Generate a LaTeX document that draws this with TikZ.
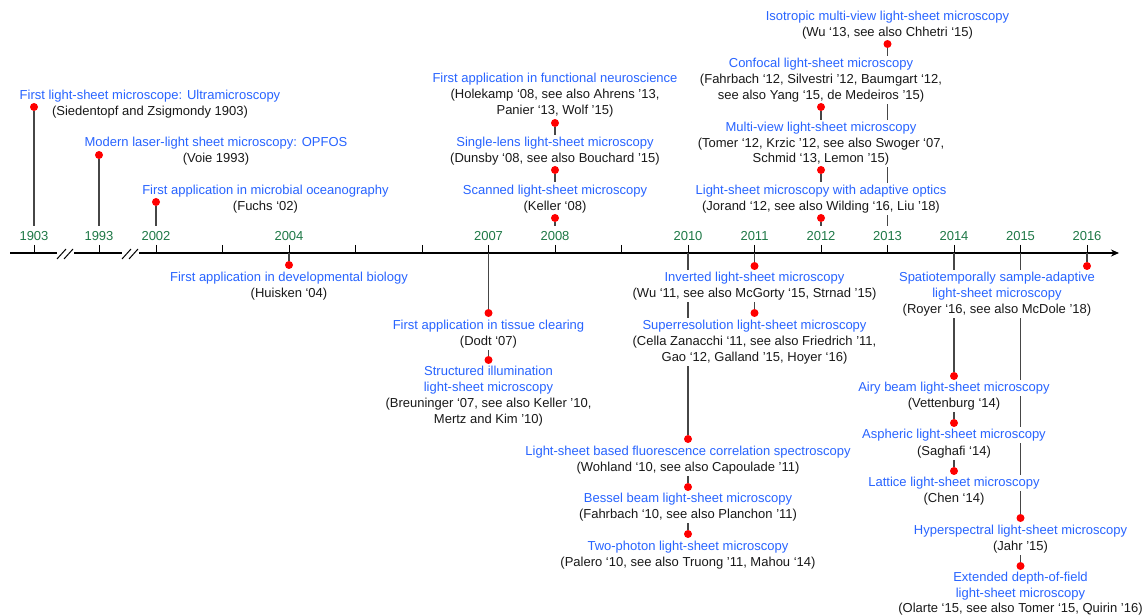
\documentclass[tikz,border=0pt]{standalone}
\usepackage{fontspec}
\setmainfont{Liberation Sans}
\usetikzlibrary{arrows.meta}
\definecolor{tblue}{RGB}{40,100,255}
\definecolor{ygreen}{RGB}{30,120,70}
\definecolor{tblack}{RGB}{25,25,25}
\definecolor{stemc}{RGB}{70,70,70}
\pgfdeclarelayer{bg}
\pgfsetlayers{bg,main}
\begin{document}
\begin{tikzpicture}[x=1bp,y=-1bp,
  every node/.style={font=\fontsize{13bp}{16bp}\selectfont},
  ti/.style={anchor=base,text=tblue,fill=white,inner xsep=1bp,inner ysep=0pt,text height=11.5bp,text depth=4.5bp},
  rf/.style={ti,text=tblack},
  yl/.style={anchor=base,text=ygreen,inner sep=0pt,text height=14bp,text depth=4bp},
  dot/.style={circle,fill=red,inner sep=0pt,minimum size=8bp},
  stem/.style={draw=stemc,line width=1.1bp},
  tick/.style={draw=black,line width=1bp},
  axisline/.style={draw=black,line width=1.1bp},
  brk/.style={draw=black,line width=1bp}]
\useasboundingbox (0,0) rectangle (1145,615);

% ---- year labels and axis coordinates
\foreach \yr/\xx in {1903/34,1993/99,2002/156,2004/289,2007/488.5,2008/555,2010/688,2011/754.5,2012/821,2013/887.5,2014/954,2015/1020.5,2016/1087}{
  \node[yl] (y\yr) at (\xx,240.6) {\yr};
  \coordinate (a\yr) at (\xx,253);
}
\foreach \yr/\xx in {2003/222.5,2005/355.5,2006/422,2009/621.5}{
  \coordinate (t\yr) at (\xx,245);
  \coordinate (a\yr) at (\xx,253);
}
% axis pieces and break marks
\coordinate (ax0) at (10,253);
\coordinate (b1l) at (57,253);
\coordinate (b1r) at (74,253);
\coordinate (b2l) at (122,253);
\coordinate (b2r) at (139,253);
\coordinate (axend) at (1119,253);
\coordinate (s1a) at (57,259); \coordinate (s1b) at (66,249);
\coordinate (s2a) at (64,259); \coordinate (s2b) at (73,249);
\coordinate (s3a) at (122,259); \coordinate (s3b) at (131,249);
\coordinate (s4a) at (129,259); \coordinate (s4b) at (138,249);

% ---- top-left events
\node[ti] (n1903a) at (150,99.6) {First light-sheet microscope: Ultramicroscopy};
\node[rf] (n1903b) at (150,115.6) {(Siedentopf and Zsigmondy 1903)};
\node[dot] (d1903) at (34,107) {};

\node[ti] (n1993a) at (216,146.6) {Modern laser-light sheet microscopy: OPFOS};
\node[rf] (n1993b) at (216,162.6) {(Voie 1993)};
\node[dot] (d1993) at (99,155) {};

\node[ti] (n2002a) at (265.5,194.1) {First application in microbial oceanography};
\node[rf] (n2002b) at (265.5,210.1) {(Fuchs ‘02)};
\node[dot] (d2002) at (156,202) {};

% ---- 2008 column
\node[ti] (n08c1) at (555,82.6) {First application in functional neuroscience};
\node[rf] (n08c2) at (555,98.6) {(Holekamp ‘08, see also Ahrens ’13,};
\node[rf] (n08c3) at (555,114.6) {Panier ‘13, Wolf ’15)};
\node[dot] (d08c) at (555,123) {};
\node[ti] (n08b1) at (555,146.6) {Single-lens light-sheet microscopy};
\node[rf] (n08b2) at (555,162.6) {(Dunsby ‘08, see also Bouchard ’15)};
\node[dot] (d08b) at (555,170) {};
\node[ti] (n08a1) at (555,194.1) {Scanned light-sheet microscopy};
\node[rf] (n08a2) at (555,210.1) {(Keller ‘08)};
\node[dot] (d08a) at (555,218) {};

% ---- 2013 top
\node[ti] (n13a1) at (887.5,20.1) {Isotropic multi-view light-sheet microscopy};
\node[rf] (n13a2) at (887.5,36.1) {(Wu ‘13, see also Chhetri ‘15)};
\node[dot] (d13) at (887.5,44) {};

% ---- 2012 column
\node[ti] (n12d1) at (821,67.6) {Confocal light-sheet microscopy};
\node[rf] (n12d2) at (821,83.6) {(Fahrbach ‘12, Silvestri ’12, Baumgart ‘12,};
\node[rf] (n12d3) at (821,99.6) {see also Yang ‘15, de Medeiros ’15)};
\node[dot] (d12d) at (821,107) {};
\node[ti] (n12c1) at (821,131.6) {Multi-view light-sheet microscopy};
\node[rf] (n12c2) at (821,147.1) {(Tomer ‘12, Krzic ’12, see also Swoger ‘07,};
\node[rf] (n12c3) at (821,162.6) {Schmid ‘13, Lemon ’15)};
\node[dot] (d12c) at (821,170) {};
\node[ti] (n12b1) at (821,194.1) {Light-sheet microscopy with adaptive optics};
\node[rf] (n12b2) at (821,210.1) {(Jorand ‘12, see also Wilding ‘16, Liu ’18)};
\node[dot] (d12b) at (821,218) {};

% ---- 2004
\node[dot] (d04) at (289,265) {};
\node[ti] (n04a1) at (289,281.6) {First application in developmental biology};
\node[rf] (n04a2) at (289,297.6) {(Huisken ‘04)};

% ---- 2007
\node[dot] (d07a) at (488.5,313) {};
\node[ti] (n07a1) at (488.5,329.1) {First application in tissue clearing};
\node[rf] (n07a2) at (488.5,345.1) {(Dodt ‘07)};
\node[dot] (d07b) at (488.5,360) {};
\node[ti] (n07b1) at (488.5,375.6) {Structured illumination};
\node[ti] (n07b2) at (488.5,391.6) {light-sheet microscopy};
\node[rf] (n07b3) at (488.5,407.6) {(Breuninger ‘07, see also Keller ’10,};
\node[rf] (n07b4) at (488.5,423.1) {Mertz and Kim ’10)};

% ---- 2011
\node[dot] (d11a) at (754.5,266) {};
\node[ti] (n11a1) at (754.5,281.6) {Inverted light-sheet microscopy};
\node[rf] (n11a2) at (754.5,297.6) {(Wu ‘11, see also McGorty ‘15, Strnad ’15)};
\node[dot] (d11b) at (754.5,313) {};
\node[ti] (n11b1) at (754.5,329.1) {Superresolution light-sheet microscopy};
\node[rf] (n11b2) at (754.5,345.1) {(Cella Zanacchi ‘11, see also Friedrich ’11,};
\node[rf] (n11b3) at (754.5,361.1) {Gao ‘12, Galland ’15, Hoyer ‘16)};

% ---- 2010
\node[dot] (d10a) at (688,439) {};
\node[ti] (n10a1) at (688,455.6) {Light-sheet based fluorescence correlation spectroscopy};
\node[rf] (n10a2) at (688,471.1) {(Wohland ‘10, see also Capoulade ’11)};
\node[dot] (d10b) at (688,487) {};
\node[ti] (n10b1) at (688,502.6) {Bessel beam light-sheet microscopy};
\node[rf] (n10b2) at (688,518.6) {(Fahrbach ‘10, see also Planchon ’11)};
\node[dot] (d10c) at (688,534) {};
\node[ti] (n10c1) at (688,550.6) {Two-photon light-sheet microscopy};
\node[rf] (n10c2) at (688,566.1) {(Palero ‘10, see also Truong ’11, Mahou ‘14)};

% ---- 2016
\node[dot] (d16) at (1087,266) {};
\node[ti] (n16a1) at (997,281.6) {Spatiotemporally sample-adaptive};
\node[ti] (n16a2) at (997,297.6) {light-sheet microscopy};
\node[rf] (n16a3) at (997,313.1) {(Royer ‘16, see also McDole ’18)};

% ---- 2014
\node[dot] (d14a) at (954,376) {};
\node[ti] (n14a1) at (954,391.6) {Airy beam light-sheet microscopy};
\node[rf] (n14a2) at (954,407.6) {(Vettenburg ‘14)};
\node[dot] (d14b) at (954,423) {};
\node[ti] (n14b1) at (954,438.6) {Aspheric light-sheet microscopy};
\node[rf] (n14b2) at (954,455.1) {(Saghafi ‘14)};
\node[dot] (d14c) at (954,471) {};
\node[ti] (n14c1) at (954,486.6) {Lattice light-sheet microscopy};
\node[rf] (n14c2) at (954,502.6) {(Chen ‘14)};

% ---- 2015
\node[dot] (d15a) at (1020.5,518) {};
\node[ti] (n15a1) at (1020.5,534.1) {Hyperspectral light-sheet microscopy};
\node[rf] (n15a2) at (1020.5,550.1) {(Jahr ’15)};
\node[dot] (d15b) at (1020.5,566) {};
\node[ti] (n15b1) at (1020.5,581.1) {Extended depth-of-field};
\node[ti] (n15b2) at (1020.5,597.1) {light-sheet microscopy};
\node[rf] (n15b3) at (1020.5,612.3) {(Olarte ‘15, see also Tomer ‘15, Quirin ’16)};

% ---- lines behind everything
\begin{pgfonlayer}{bg}
  % axis
  \draw[axisline] (ax0) -- (b1l);
  \draw[axisline] (b1r) -- (b2l);
  \draw[axisline,-{Stealth[length=8bp,width=7bp]}] (b2r) -- (axend);
  \draw[brk] (s1a) -- (s1b);
  \draw[brk] (s2a) -- (s2b);
  \draw[brk] (s3a) -- (s3b);
  \draw[brk] (s4a) -- (s4b);
  % ticks
  \foreach \yr in {1903,1993,2002,2004,2007,2008,2010,2011,2012,2013,2014,2015,2016}{
    \draw[tick] (y\yr.south) -- (a\yr);
  }
  \foreach \yr in {2003,2005,2006,2009}{
    \draw[tick] (t\yr) -- (a\yr);
  }
  % top stems
  \draw[stem] (d1903) -- (y1903.north);
  \draw[stem] (d1993) -- (y1993.north);
  \draw[stem] (d2002) -- (y2002.north);
  \draw[stem] (d08a) -- (y2008.north);
  \draw[stem] (d08b) -- (n08a1.north);
  \draw[stem] (d08c) -- (n08b1.north);
  \draw[stem] (d13) -- (y2013.north);
  \draw[stem] (d12b) -- (y2012.north);
  \draw[stem] (d12c) -- (n12b1.north);
  \draw[stem] (d12d) -- (n12c1.north);
  % bottom stems
  \draw[stem] (a2004) -- (d04);
  \draw[stem] (a2007) -- (d07a);
  \draw[stem] (n07a2.south) -- (d07b);
  \draw[stem] (a2011) -- (d11a);
  \draw[stem] (n11a2.south) -- (d11b);
  \draw[stem] (a2010) -- (d10a);
  \draw[stem] (n10a2.south) -- (d10b);
  \draw[stem] (n10b2.south) -- (d10c);
  \draw[stem] (a2016) -- (d16);
  \draw[stem] (a2014) -- (d14a);
  \draw[stem] (n14a2.south) -- (d14b);
  \draw[stem] (n14b2.south) -- (d14c);
  \draw[stem] (a2015) -- (d15a);
  \draw[stem] (n15a2.south) -- (d15b);
\end{pgfonlayer}
\end{tikzpicture}
\end{document}
